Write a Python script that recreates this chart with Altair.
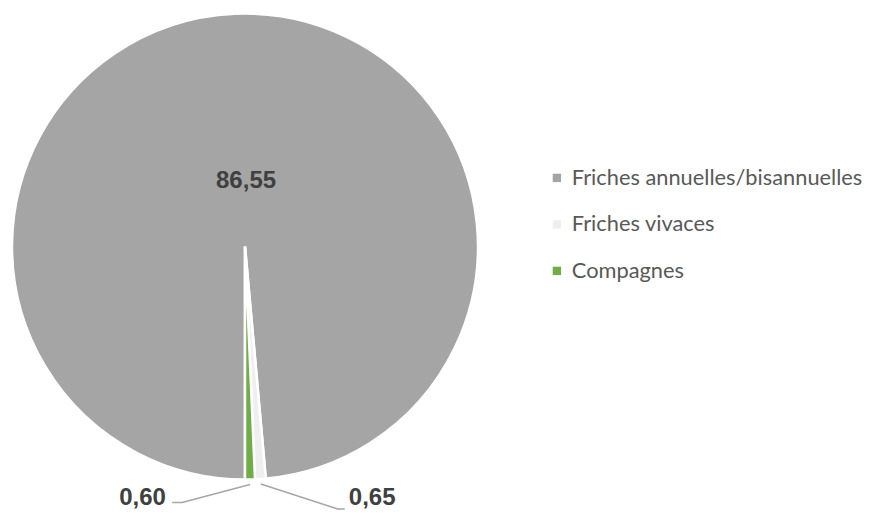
import math
import altair as alt
import pandas as pd

categories = ["Friches annuelles/bisannuelles", "Friches vivaces", "Compagnes"]
values = [86.55, 0.65, 0.60]
labels = ["86,55", "0,65", "0,60"]
colors = ["#a5a5a5", "#efefef", "#70ad47"]

df = pd.DataFrame({
    "cat": categories,
    "value": values,
    "label": labels,
    "order": list(range(len(categories))),
})

# geometry (style)
CX, CY, R = 237, 238.5, 233
START = math.pi  # first slice starts at 6 o'clock

theta_scale = alt.Scale(range=[START, START + 2 * math.pi])

base = alt.Chart(df).encode(
    theta=alt.Theta("value:Q", stack=True, scale=theta_scale),
    order=alt.Order("order:Q"),
    x=alt.value(CX),
    y=alt.value(CY),
)

pie = base.mark_arc(radius=R, stroke="white", strokeWidth=2.5).encode(
    color=alt.Color(
        "cat:N",
        sort=categories,
        scale=alt.Scale(domain=categories, range=colors),
        legend=alt.Legend(
            title=None,
            orient="none",
            legendX=538,
            legendY=159,
            symbolType="square",
            symbolSize=70,
            symbolStrokeWidth=0,
            labelFont="Lato",
            labelFontSize=21.8,
            labelColor="#595959",
            rowPadding=23.5,
            labelLimit=400,
            symbolOffset=0,
            labelOffset=4,
        ),
    )
)

txt_style = dict(font="Liberation Sans", fontSize=24, fontWeight="bold", color="#404040")

big = base.transform_filter(alt.datum.order == 0).mark_text(radius=66, dx=4, **txt_style).encode(
    text="label:N"
)

# leader lines computed from slice angles
total = sum(values)
cum = 0
mids = []
for v in values:
    a0 = START + 2 * math.pi * cum / total
    cum += v
    a1 = START + 2 * math.pi * cum / total
    mids.append((a0 + a1) / 2)

rows = []
specs = {1: (1, 77, 25, 7), 2: (-1, 68, 18, 10)}  # side, elbow dx, elbow dy, tail
for i, (side, edx, edy, tail) in specs.items():
    a = mids[i]
    ax = CX + (R + 5) * math.sin(a)
    ay = CY - (R + 5) * math.cos(a)
    pts = [(ax, ay), (ax + side * edx, ay + edy), (ax + side * (edx + tail), ay + edy)]
    for k, (px, py) in enumerate(pts):
        rows.append({"cat": categories[i], "k": k, "px": px, "py": py})

lines = alt.Chart(pd.DataFrame(rows)).mark_line(color="#a6a6a6", strokeWidth=1.5).encode(
    x=alt.X("px:Q", scale=None),
    y=alt.Y("py:Q", scale=None),
    detail="cat:N",
    order="k:Q",
)

small_r = base.transform_filter(alt.datum.order == 1).mark_text(radius=252, dx=133, **txt_style).encode(text="label:N")
small_l = base.transform_filter(alt.datum.order == 2).mark_text(radius=252, dx=-97, **txt_style).encode(text="label:N")

chart = alt.layer(pie, lines, big, small_r, small_l).properties(
    width=859, height=505, padding=0, autosize="none"
).configure_view(stroke=None)

chart.save("out.html", embed_options={"renderer": "svg", "actions": False})
